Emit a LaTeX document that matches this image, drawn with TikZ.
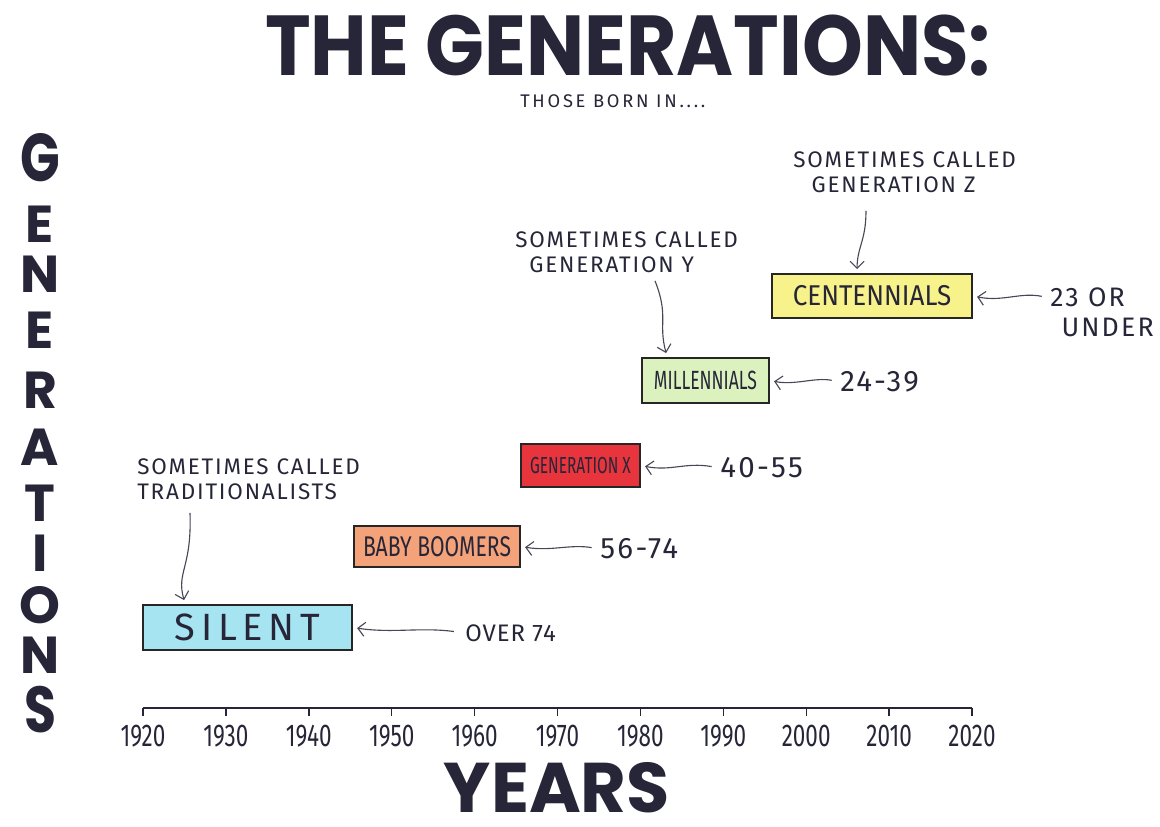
\documentclass[tikz,border=0pt]{standalone}
\usepackage{fontspec}
\setmainfont{Fira Sans}
\newfontfamily\markerfont{Poppins}
\usetikzlibrary{arrows.meta,calc}

\definecolor{ink}{HTML}{262638}
\definecolor{silentblue}{HTML}{A6E4F2}
\definecolor{boomerorange}{HTML}{F4A27A}
\definecolor{genxred}{HTML}{E8343C}
\definecolor{millengreen}{HTML}{DCF2BE}
\definecolor{centenyellow}{HTML}{F7F38A}

\newcommand{\tallx}[2]{\scalebox{1}[#1]{#2}}

\tikzset{
	genbox/.style={draw=black!85, line width=1.3pt, inner sep=0pt, text=ink},
	pointer/.style={draw=ink!85, line width=0.8pt, -{Straight Barb[length=5pt,width=10pt]}},
	note/.style={text=ink, align=left, inner sep=0pt, font=\fontsize{16}{18}\selectfont\addfontfeature{LetterSpace=8}},
	agelbl/.style={text=ink, inner sep=0pt, font=\fontsize{21}{22}\selectfont\addfontfeature{LetterSpace=8}},
	yearlbl/.style={text=ink, inner sep=0pt, font=\fontsize{16}{16}\selectfont},
	bigletter/.style={text=ink, inner sep=0pt, font=\markerfont\bfseries\fontsize{37}{37}\selectfont},
}

\begin{document}
\begin{tikzpicture}[x=0.025cm, y=-0.025cm]
	\useasboundingbox (0,0) rectangle (1160,827);

	%% title
	\node[text=ink, inner sep=0pt, font=\markerfont\bfseries\fontsize{55}{56}\selectfont] (title) at (628,46) {\tallx{1.1}{THE GENERATIONS:}};
	\node[note, anchor=west, font=\fontsize{13}{14}\selectfont\addfontfeature{LetterSpace=15}] (born) at (520,101) {THOSE BORN IN....};

	%% vertical word on the left
	\node[bigletter] (l1) at (40,158) {\tallx{1.3}{G}};
	\node[bigletter] (l2) at (40,224) {E};
	\node[bigletter] (l3) at (40,274) {N};
	\node[bigletter] (l4) at (40,330) {E};
	\node[bigletter] (l5) at (40,390) {R};
	\node[bigletter] (l6) at (40,447) {A};
	\node[bigletter] (l7) at (40,503) {T};
	\node[bigletter] (l8) at (40,553) {I};
	\node[bigletter] (l9) at (40,605) {O};
	\node[bigletter] (l10) at (40,655) {N};
	\node[bigletter] (l11) at (40,710) {\tallx{1.25}{S}};

	%% time axis
	\draw[draw=ink, line width=1.2pt] (143,708) -- (972,708);
	\draw[draw=ink, line width=1pt] (143,708) -- (143,716) node[yearlbl, below=6pt] (y1920) {\tallx{1.4}{1920}};
	\draw[draw=ink, line width=1pt] (225.9,708) -- (225.9,716) node[yearlbl, below=6pt] (y1930) {\tallx{1.4}{1930}};
	\draw[draw=ink, line width=1pt] (308.8,708) -- (308.8,716) node[yearlbl, below=6pt] (y1940) {\tallx{1.4}{1940}};
	\draw[draw=ink, line width=1pt] (391.7,708) -- (391.7,716) node[yearlbl, below=6pt] (y1950) {\tallx{1.4}{1950}};
	\draw[draw=ink, line width=1pt] (474.6,708) -- (474.6,716) node[yearlbl, below=6pt] (y1960) {\tallx{1.4}{1960}};
	\draw[draw=ink, line width=1pt] (557.5,708) -- (557.5,716) node[yearlbl, below=6pt] (y1970) {\tallx{1.4}{1970}};
	\draw[draw=ink, line width=1pt] (640.4,708) -- (640.4,716) node[yearlbl, below=6pt] (y1980) {\tallx{1.4}{1980}};
	\draw[draw=ink, line width=1pt] (723.3,708) -- (723.3,716) node[yearlbl, below=6pt] (y1990) {\tallx{1.4}{1990}};
	\draw[draw=ink, line width=1pt] (806.2,708) -- (806.2,716) node[yearlbl, below=6pt] (y2000) {\tallx{1.4}{2000}};
	\draw[draw=ink, line width=1pt] (889.1,708) -- (889.1,716) node[yearlbl, below=6pt] (y2010) {\tallx{1.4}{2010}};
	\draw[draw=ink, line width=1pt] (972,708) -- (972,716) node[yearlbl, below=6pt] (y2020) {\tallx{1.4}{2020}};
	\node[text=ink, inner sep=0pt, font=\markerfont\bfseries\fontsize{50}{50}\selectfont] (years) at (557,788) {YEARS};

	%% generation boxes
	\node[genbox, fill=silentblue, minimum width=209*0.025cm, minimum height=45*0.025cm,
		font=\fontsize{27}{28}\selectfont\addfontfeature{LetterSpace=15}] (silent) at (247.5,627.5) {SILENT};
	\node[genbox, fill=boomerorange, minimum width=166*0.025cm, minimum height=41*0.025cm,
		font=\fontsize{15}{16}\selectfont] (boomers) at (437,546.5) {\tallx{1.35}{BABY BOOMERS}};
	\node[genbox, fill=genxred, minimum width=119*0.025cm, minimum height=43*0.025cm,
		font=\fontsize{11}{12}\selectfont] (genx) at (580.5,465.5) {\tallx{1.5}{GENERATION X}};
	\node[genbox, fill=millengreen, minimum width=127*0.025cm, minimum height=45*0.025cm,
		font=\fontsize{12.5}{13}\selectfont] (millen) at (705.5,380.5) {\tallx{1.5}{MILLENNIALS}};
	\node[genbox, fill=centenyellow, minimum width=200*0.025cm, minimum height=44*0.025cm,
		font=\fontsize{18.5}{20}\selectfont] (centen) at (872,296) {\tallx{1.1}{CENTENNIALS}};

	%% ages
	\node[agelbl, anchor=west, font=\fontsize{17}{18}\selectfont\addfontfeature{LetterSpace=4}] (over74) at (465,633) {OVER 74};
	\node[agelbl, anchor=west] (age56) at (600,549) {56-74};
	\node[agelbl, anchor=west] (age40) at (720,468) {40-55};
	\node[agelbl, anchor=west] (age24) at (840,382) {24-39};
	\node[agelbl, anchor=north west, align=left, font=\fontsize{19}{22}\selectfont\addfontfeature{LetterSpace=8}] (age23) at (1050,287) {23 OR\\\hspace*{8pt}UNDER};

	\draw[pointer, shorten <=8pt, shorten >=3pt] (over74.west) .. controls +(-45,-6) and +(40,6) .. (silent.east);
	\draw[pointer, shorten <=6pt, shorten >=3pt] (age56.west) .. controls +(-30,-5) and +(30,5) .. (boomers.east);
	\draw[pointer, shorten <=6pt, shorten >=3pt] (age40.west) .. controls +(-35,-6) and +(30,6) .. (genx.east);
	\draw[pointer, shorten <=6pt, shorten >=3pt] (age24.west) .. controls +(-25,-5) and +(25,5) .. (millen.east);
	\draw[pointer, shorten <=6pt, shorten >=3pt] ($(age23.north west)+(0,11)$) .. controls +(-30,-6) and +(30,6) .. (centen.east);

	%% side notes
	\node[note, anchor=north west] (tradnote) at (137,458) {SOMETIMES CALLED\\TRADITIONALISTS};
	\node[note, anchor=north west] (ynote) at (515,231) {SOMETIMES CALLED\\\hspace*{10pt}GENERATION Y};
	\node[note, anchor=north west] (znote) at (793,151) {SOMETIMES CALLED\\\hspace*{13pt}GENERATION Z};

	\draw[pointer] ($(tradnote.south west)+(53,13)$) .. controls +(2,55) and +(-8,-28) .. ($(silent.north west)+(42,-4)$);
	\draw[pointer] ($(ynote.south west)+(140,8)$) .. controls +(14,35) and +(-8,-30) .. ($(millen.north west)+(25,-4)$);
	\draw[pointer] ($(znote.south west)+(73,18)$) .. controls +(0,30) and +(0,-22) .. ($(centen.north west)+(86,-4)$);
\end{tikzpicture}
\end{document}
